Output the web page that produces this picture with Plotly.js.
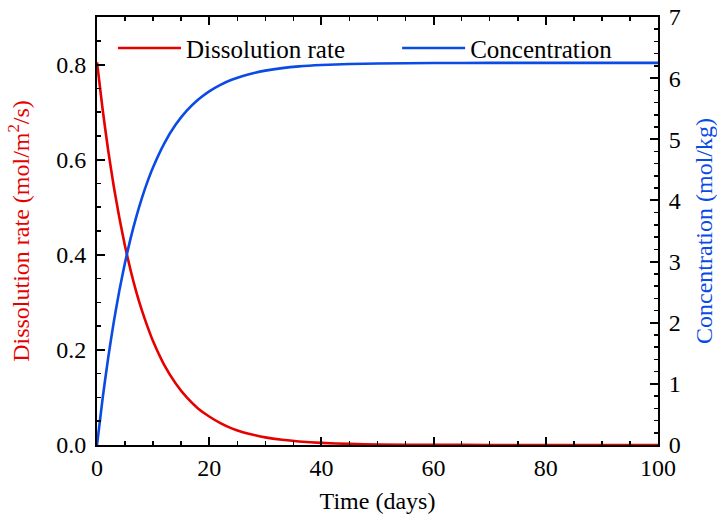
<!DOCTYPE html>
<html>
<head>
<meta charset="utf-8">
<script src="https://cdn.plot.ly/plotly-3.0.1.min.js"></script>
<style>html,body{margin:0;padding:0;background:#fff;}#chart{width:717px;height:517px;}</style>
</head>
<body>
<div id="chart"></div>
<script>
// Time (days)
const timeDays = [0,1,2,3,4,5,6,7,8,9,10,12,14,16,18,20,22,24,26,28,30,33,36,40,45,50,60,70,80,90,100];
// Dissolution rate (mol/m²/s)
const dissolutionRate = [0.805,0.706,0.619,0.543,0.477,0.418,0.367,0.322,0.283,0.249,0.218,0.168,0.130,0.100,0.077,0.060,0.046,0.035,0.027,0.021,0.016,0.011,0.0075,0.0044,0.0023,0.0012,0.0003,0.0001,0.0,0.0,0.0];
// Concentration (mol/kg)
const concentration = [0,0.761,1.430,2.017,2.533,2.986,3.383,3.732,4.039,4.308,4.544,4.935,5.236,5.468,5.646,5.784,5.891,5.973,6.036,6.085,6.123,6.164,6.192,6.215,6.232,6.240,6.247,6.250,6.250,6.250,6.250];
const xTicks = [0,20,40,60,80,100];
const leftTicks = [0,0.2,0.4,0.6,0.8];
const rightTicks = [0,1,2,3,4,5,6,7];

const RED = '#e60000';
const BLUE = '#0a4be6';
const FONT = 'Liberation Serif, DejaVu Serif, serif';

const traces = [
  {x: timeDays, y: dissolutionRate, name: 'Dissolution rate', type: 'scatter', mode: 'lines',
   line: {color: RED, width: 2.6, shape: 'spline', smoothing: 0.6}, yaxis: 'y', legend: 'legend'},
  {x: timeDays, y: concentration, name: 'Concentration', type: 'scatter', mode: 'lines',
   line: {color: BLUE, width: 2.6, shape: 'spline', smoothing: 0.6}, yaxis: 'y2', legend: 'legend2'}
];

const legendBase = {orientation: 'h', y: 0.927, xanchor: 'left', yanchor: 'middle',
  bgcolor: 'rgba(0,0,0,0)', borderwidth: 0, font: {family: FONT, size: 25, color: '#000'}, itemwidth: 63};

const layout = {
  width: 717, height: 517,
  margin: {l: 97, r: 59, t: 17, b: 72},
  paper_bgcolor: '#fff', plot_bgcolor: '#fff',
  font: {family: FONT, size: 23, color: '#000'},
  showlegend: true,
  legend: Object.assign({}, legendBase, {x: 0.0285}),
  legend2: Object.assign({}, legendBase, {x: 0.535}),
  xaxis: {
    range: [0, 100], tickvals: xTicks, ticktext: xTicks.map(String),
    showline: true, linecolor: '#000', linewidth: 2, mirror: 'ticks',
    ticks: 'inside', ticklen: 8, tickwidth: 2, tickcolor: '#000',
    minor: {dtick: 5, tick0: 0, ticks: 'inside', ticklen: 4, tickwidth: 1.5, tickcolor: '#000'},
    showgrid: false, zeroline: false,
    tickfont: {family: FONT, size: 24},
    title: {text: 'Time (days)', font: {family: FONT, size: 24}, standoff: 12}
  },
  yaxis: {
    range: [0, 0.9], tickvals: leftTicks, ticktext: leftTicks.map(v => v.toFixed(1)),
    showline: true, linecolor: '#000', linewidth: 2,
    ticks: 'inside', ticklen: 8, tickwidth: 2, tickcolor: '#000',
    minor: {dtick: 0.05, tick0: 0, ticks: 'inside', ticklen: 4, tickwidth: 1.5, tickcolor: '#000'},
    showgrid: false, zeroline: false, ticklabelstandoff: 4,
    tickfont: {family: FONT, size: 24},
    title: {text: 'Dissolution rate (mol/m<sup>2</sup>/s)', font: {family: FONT, size: 24, color: RED}, standoff: 20}
  },
  yaxis2: {
    range: [0, 7], tickvals: rightTicks, ticktext: rightTicks.map(String),
    overlaying: 'y', side: 'right',
    showline: true, linecolor: '#000', linewidth: 2,
    ticks: 'inside', ticklen: 8, tickwidth: 2, tickcolor: '#000',
    minor: {dtick: 0.2, tick0: 0, ticks: 'inside', ticklen: 4, tickwidth: 1.5, tickcolor: '#000'},
    showgrid: false, zeroline: false, ticklabelstandoff: 4,
    tickfont: {family: FONT, size: 24},
    title: {text: 'Concentration (mol/kg)', font: {family: FONT, size: 24, color: BLUE}, standoff: 18}
  }
};

Plotly.newPlot('chart', traces, layout, {displayModeBar: false, staticPlot: true});
</script>
</body>
</html>
